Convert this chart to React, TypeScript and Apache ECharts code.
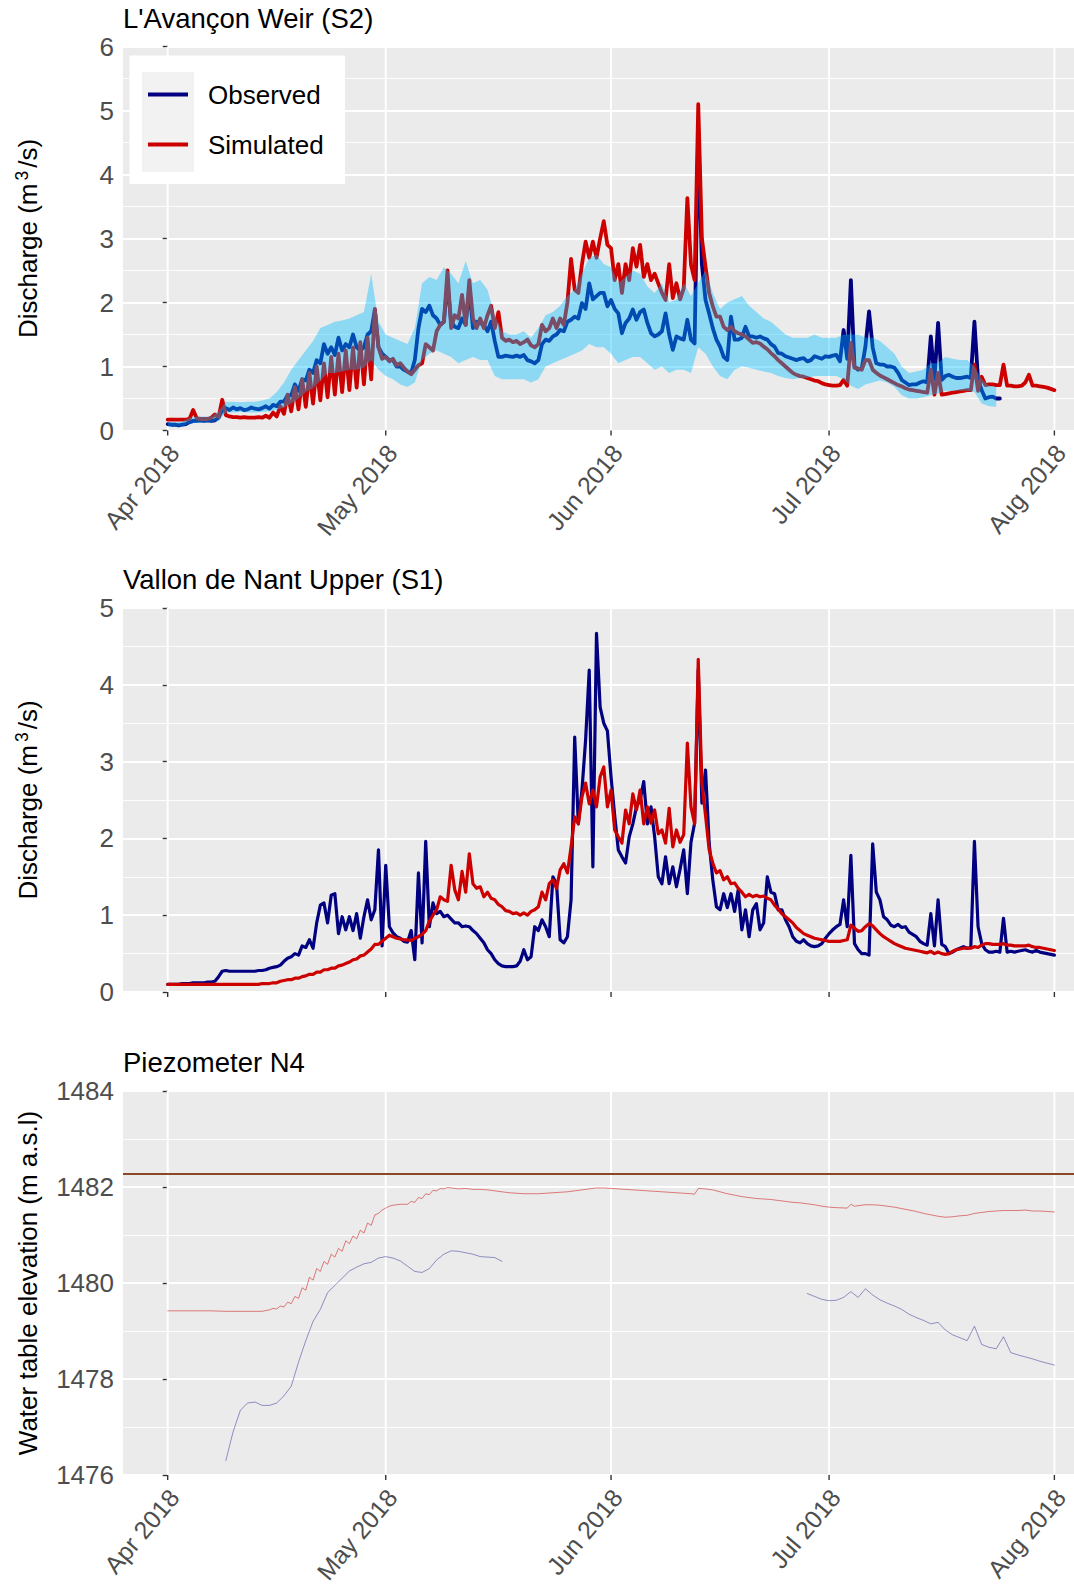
import React, { useEffect, useRef } from "react";
import * as echarts from "echarts";

// ---------- Data (x = days since 1 Apr 2018) ----------

// Month boundaries and their labels
const monthDays = [0, 30, 61, 91, 122];
const monthLabels = ["Apr 2018", "May 2018", "Jun 2018", "Jul 2018", "Aug 2018"];

// L'Avançon Weir (S2) discharge, half-day sampling from 1 Apr
const weirStep = 0.5;
const weirObserved = [
  0.1, 0.09, 0.09, 0.08, 0.09, 0.1, 0.13, 0.15, 0.15, 0.16, 0.15, 0.16, 0.15, 0.16, 0.2, 0.33,
  0.35, 0.32, 0.36, 0.33, 0.35, 0.32, 0.33, 0.36, 0.34, 0.33, 0.35, 0.38, 0.34, 0.4, 0.38, 0.45,
  0.45, 0.55, 0.55, 0.72, 0.62, 0.8, 0.78, 0.95, 0.9, 1.1, 1.05, 1.35, 1.2, 1.3, 1.18, 1.45,
  1.25, 1.35, 1.3, 1.5, 1.3, 1.25, 1.3, 1.5, 1.55, 1.88, 1.3, 1.2, 1.15, 1.1, 1.1, 1.0,
  1.0, 0.95, 0.92, 0.9, 1.1, 1.6, 1.9, 1.85, 1.95, 1.8, 1.75, 1.65, 1.7, 2.3, 1.7, 1.62,
  1.6, 1.75, 1.65, 2.2, 1.6, 1.7, 1.68, 1.65, 1.55, 1.7, 1.4, 1.15, 1.15, 1.17, 1.16, 1.15,
  1.17, 1.15, 1.18, 1.1, 1.08, 1.05, 1.1, 1.35, 1.42, 1.4, 1.47, 1.5, 1.57, 1.55, 1.7, 1.73,
  1.78, 1.75, 1.99, 1.9, 2.3, 2.05, 2.1, 2.15, 2.15, 1.94, 2.04, 1.9, 1.83, 1.52, 1.68, 1.75,
  1.89, 1.73, 1.85, 1.89, 1.68, 1.52, 1.47, 1.5, 1.55, 1.83, 1.5, 1.26, 1.47, 1.44, 1.42, 1.73,
  1.42, 1.36, 4.7, 2.6, 2.04, 1.83, 1.6, 1.42, 1.31, 1.15, 1.1, 1.78, 1.42, 1.42, 1.45, 1.62,
  1.47, 1.47, 1.45, 1.47, 1.44, 1.42, 1.35, 1.31, 1.21, 1.2, 1.16, 1.14, 1.12, 1.1, 1.12, 1.13,
  1.08, 1.1, 1.16, 1.14, 1.12, 1.16, 1.15, 1.17, 1.18, 1.08, 1.57, 1.12, 2.35, 1.0, 0.95, 0.97,
  1.31, 1.86, 1.3, 1.05, 1.03, 1.03, 1.0, 1.0, 0.98, 0.9, 0.79, 0.75, 0.71, 0.72, 0.72, 0.75,
  0.77, 0.75, 1.47, 0.8, 1.68, 0.79, 0.85, 0.87, 0.84, 0.82, 0.82, 0.83, 0.84, 0.82, 1.7, 0.79,
  0.63, 0.5, 0.52, 0.53, 0.5, 0.5,
];
const weirSimulated = [
  0.17, 0.17, 0.17, 0.17, 0.17, 0.17, 0.18, 0.32, 0.19, 0.18, 0.18, 0.18, 0.2, 0.25, 0.21, 0.48,
  0.24, 0.22, 0.21, 0.21, 0.2, 0.21, 0.2, 0.2, 0.2, 0.21, 0.2, 0.23, 0.2, 0.28, 0.22, 0.38,
  0.26, 0.56, 0.3, 0.68, 0.33, 0.8, 0.37, 0.9, 0.42, 1.0, 0.47, 1.05, 0.52, 1.15, 0.56, 1.2,
  0.6, 1.25, 0.63, 1.3, 0.67, 1.38, 0.72, 1.45, 0.8, 1.9, 1.3, 1.12, 1.15, 1.08, 1.12, 1.02,
  1.05, 0.98, 0.92, 0.88, 0.95, 1.02, 1.05, 1.35, 1.3, 1.25, 1.55, 1.65, 1.7, 2.5, 1.6, 1.8,
  1.75, 2.12, 1.65, 2.35, 1.75, 1.6, 1.75, 1.6, 1.8, 1.95, 1.6, 1.85, 1.45, 1.4, 1.42, 1.38,
  1.4, 1.35, 1.38, 1.42, 1.33, 1.3, 1.35, 1.65, 1.55, 1.6, 1.75, 1.6, 1.75, 1.65, 2.0, 2.68,
  2.2, 2.15, 2.6, 2.95, 2.7, 2.95, 2.7, 3.0, 3.27, 2.9, 2.85, 2.35, 2.6, 2.15, 2.6, 2.35,
  2.85, 2.56, 2.9, 2.4, 2.6, 2.35, 2.45, 2.3, 2.15, 2.04, 2.6, 2.07, 2.3, 2.05, 2.22, 3.63,
  2.59, 2.35, 5.1, 3.0, 2.56, 2.15, 1.94, 1.78, 1.78, 1.62, 1.57, 1.62, 1.55, 1.52, 1.5, 1.47,
  1.42, 1.37, 1.38, 1.36, 1.31, 1.27, 1.21, 1.16, 1.1, 1.05, 1.0, 0.95, 0.9, 0.87, 0.85, 0.84,
  0.82, 0.8, 0.78, 0.77, 0.74, 0.72, 0.71, 0.7, 0.7, 0.71, 0.79, 0.7, 1.37, 0.98, 0.97, 0.95,
  1.1, 1.1, 0.95, 0.9, 0.86, 0.83, 0.8, 0.77, 0.74, 0.71, 0.69, 0.66, 0.64, 0.63, 0.62, 0.61,
  0.6, 0.59, 0.95, 0.56, 0.9, 0.56, 0.57, 0.58, 0.59, 0.6, 0.61, 0.62, 0.63, 0.63, 1.03, 0.62,
  0.84, 0.71, 0.72, 0.72, 0.71, 0.71, 1.03, 0.7, 0.7, 0.69, 0.69, 0.7, 0.75, 0.87, 0.7, 0.7,
  0.69, 0.68, 0.67, 0.65, 0.63,
];
// Uncertainty band of the observed weir discharge, daily from 1 Apr
const weirBandLower = [
  0.06, 0.06, 0.06, 0.1, 0.12, 0.12, 0.13, 0.15, 0.28, 0.28, 0.29, 0.28, 0.28, 0.29, 0.3, 0.32,
  0.36, 0.42, 0.5, 0.6, 0.66, 0.78, 0.9, 0.9, 0.92, 0.95, 0.95, 0.98, 1.1, 0.95, 0.85, 0.8,
  0.72, 0.68, 0.75, 1.1, 1.2, 1.25, 1.2, 1.15, 1.05, 1.1, 1.15, 1.1, 1.1, 0.85, 0.8, 0.8,
  0.8, 0.8, 0.75, 0.8, 1.0, 1.05, 1.1, 1.15, 1.2, 1.25, 1.35, 1.3, 1.3, 1.2, 1.05, 1.1,
  1.15, 1.15, 1.05, 0.95, 1.0, 0.9, 0.95, 0.95, 0.9, 1.3, 1.2, 1.0, 0.85, 0.8, 0.95, 1.0,
  0.98, 0.95, 0.92, 0.9, 0.85, 0.82, 0.8, 0.82, 0.82, 0.85, 0.85, 0.85, 0.85, 0.8, 0.7, 0.65,
  0.72, 0.75, 0.78, 0.75, 0.68, 0.55, 0.5, 0.5, 0.52, 0.55, 0.58, 0.62, 0.62, 0.62, 0.62, 0.6,
  0.42, 0.38, 0.37,
];
const weirBandUpper = [
  0.13, 0.13, 0.14, 0.2, 0.22, 0.22, 0.22, 0.3, 0.45, 0.45, 0.44, 0.45, 0.45, 0.47, 0.5, 0.6,
  0.75, 0.95, 1.1, 1.25, 1.4, 1.6, 1.65, 1.7, 1.72, 1.75, 1.8, 1.85, 2.45, 1.7, 1.5, 1.45,
  1.4, 1.35, 1.6, 2.3, 2.4, 2.35, 2.55, 2.45, 2.3, 2.65, 2.3, 2.35, 2.2, 1.8, 1.55, 1.5,
  1.5, 1.55, 1.45, 1.6, 1.8, 1.85, 1.95, 2.1, 2.2, 2.45, 2.7, 2.75, 2.6, 2.55, 2.3, 2.4,
  2.5, 2.45, 2.25, 2.15, 2.3, 2.0, 2.05, 2.3, 2.1, 2.3, 2.5, 2.15, 1.9, 2.0, 2.05, 2.1,
  1.95, 1.85, 1.75, 1.7, 1.6, 1.5, 1.45, 1.45, 1.45, 1.5, 1.45, 1.45, 1.45, 1.5, 1.5, 1.5,
  1.45, 1.45, 1.4, 1.3, 1.2, 1.0, 0.9, 0.92, 0.95, 1.05, 1.05, 1.15, 1.12, 1.1, 1.1, 1.0,
  0.8, 0.7, 0.68,
];

// Vallon de Nant Upper (S1) discharge, half-day sampling from 1 Apr
const upperStep = 0.5;
const upperObserved = [
  0.1, 0.1, 0.1, 0.1, 0.11, 0.11, 0.11, 0.12, 0.12, 0.12, 0.12, 0.13, 0.13, 0.14, 0.2, 0.27,
  0.28, 0.27, 0.27, 0.27, 0.27, 0.27, 0.27, 0.27, 0.27, 0.28, 0.28, 0.29, 0.31, 0.32, 0.33, 0.35,
  0.4, 0.44, 0.46, 0.5, 0.48, 0.6, 0.58, 0.68, 0.57, 0.9, 1.13, 1.16, 0.9, 1.26, 1.28, 0.76,
  0.98, 0.81, 0.98, 0.8, 1.02, 0.7, 0.98, 1.2, 0.94, 1.07, 1.85, 0.6, 1.65, 0.85, 0.77, 0.72,
  0.7, 0.66, 0.65, 0.8, 0.42, 1.55, 0.64, 1.96, 0.85, 1.16, 1.02, 1.05, 0.98, 1.0, 0.95, 0.9,
  0.9, 0.85, 0.86, 0.85, 0.8, 0.76, 0.7, 0.64, 0.55, 0.5, 0.42, 0.37, 0.34, 0.33, 0.33, 0.33,
  0.34, 0.4, 0.55, 0.42, 0.46, 0.85, 0.8, 0.94, 0.85, 0.72, 1.5, 1.41, 0.68, 0.64, 0.72, 1.2,
  3.32, 2.19, 2.63, 3.28, 4.19, 1.63, 4.67, 3.71, 3.5, 3.4, 2.8, 2.3, 1.85, 1.76, 1.68, 2.02,
  2.19, 2.41, 2.5, 2.74, 2.19, 2.41, 2.02, 1.5, 1.41, 1.76, 1.41, 1.63, 1.37, 1.6, 1.85, 1.28,
  1.95, 2.2, 4.2, 2.46, 2.89, 1.94, 1.46, 1.11, 1.07, 1.28, 1.1, 1.28, 1.05, 1.33, 0.81, 1.07,
  0.72, 1.07, 1.15, 0.81, 0.9, 1.5, 1.3, 1.28, 1.07, 1.07, 0.94, 0.85, 0.72, 0.66, 0.64, 0.68,
  0.63, 0.6, 0.59, 0.6, 0.63, 0.7, 0.76, 0.81, 0.85, 0.88, 1.2, 0.85, 1.78, 0.63, 0.55, 0.5,
  0.5, 0.48, 1.93, 1.3, 1.2, 0.98, 0.94, 0.87, 0.85, 0.88, 0.84, 0.85, 0.78, 0.75, 0.72, 0.66,
  0.63, 0.61, 1.02, 0.6, 1.2, 0.62, 0.59, 0.5, 0.52, 0.55, 0.57, 0.59, 0.57, 0.58, 1.96, 0.85,
  0.63, 0.55, 0.52, 0.52, 0.53, 0.52, 0.96, 0.52, 0.53, 0.52, 0.53, 0.54, 0.55, 0.53, 0.52, 0.54,
  0.52, 0.51, 0.5, 0.49, 0.48,
];
const upperSimulated = [
  0.1, 0.1, 0.1, 0.1, 0.1, 0.1, 0.1, 0.1, 0.1, 0.1, 0.1, 0.1, 0.1, 0.1, 0.1, 0.1,
  0.1, 0.1, 0.1, 0.1, 0.1, 0.1, 0.1, 0.1, 0.1, 0.1, 0.11, 0.11, 0.11, 0.12, 0.12, 0.14,
  0.15, 0.16, 0.16, 0.18, 0.18, 0.2, 0.21, 0.23, 0.23, 0.26, 0.26, 0.29, 0.29, 0.31, 0.31, 0.34,
  0.35, 0.37, 0.39, 0.42, 0.43, 0.47, 0.48, 0.52, 0.56, 0.62, 0.62, 0.66, 0.7, 0.74, 0.72, 0.7,
  0.69, 0.68, 0.68, 0.67, 0.7, 0.72, 0.75, 0.8, 0.92, 1.0, 1.07, 1.24, 1.2, 1.18, 1.65, 1.33,
  1.2, 1.57, 1.3, 1.8, 1.41, 1.35, 1.37, 1.24, 1.3, 1.22, 1.2, 1.14, 1.11, 1.06, 1.05, 1.02,
  1.03, 1.0, 1.03, 1.0, 1.05, 1.07, 1.11, 1.3, 1.2, 1.41, 1.46, 1.35, 1.59, 1.67, 1.55, 1.89,
  2.28, 2.19, 2.54, 2.72, 2.45, 2.63, 2.41, 2.8, 2.93, 2.41, 2.63, 2.11, 2.02, 1.94, 2.37, 2.19,
  2.58, 2.37, 2.63, 2.19, 2.41, 2.2, 2.37, 2.06, 2.11, 1.94, 2.39, 1.89, 2.11, 1.95, 2.05, 3.24,
  2.41, 2.19, 4.33, 2.72, 2.3, 1.85, 1.68, 1.55, 1.58, 1.46, 1.5, 1.41, 1.42, 1.35, 1.3, 1.24,
  1.27, 1.24, 1.26, 1.24, 1.25, 1.22, 1.2, 1.13, 1.08, 1.02, 0.98, 0.94, 0.9, 0.84, 0.8, 0.76,
  0.74, 0.72, 0.7, 0.69, 0.68, 0.67, 0.66, 0.66, 0.66, 0.66, 0.67, 0.68, 0.87, 0.83, 0.79, 0.8,
  0.85, 0.89, 0.86, 0.81, 0.76, 0.72, 0.69, 0.66, 0.63, 0.61, 0.59, 0.57, 0.56, 0.55, 0.54, 0.53,
  0.52, 0.51, 0.53, 0.5, 0.52, 0.5, 0.49, 0.5, 0.53, 0.55, 0.56, 0.57, 0.57, 0.57, 0.59, 0.58,
  0.61, 0.63, 0.63, 0.62, 0.62, 0.62, 0.63, 0.61, 0.61, 0.6, 0.6, 0.6, 0.6, 0.61, 0.59, 0.58,
  0.58, 0.57, 0.56, 0.55, 0.54,
];

// Piezometer N4 simulated water table (m a.s.l.) as [day, level]; finer during the spring rise
const piezoSimulated: number[][] = [
  [0, 1479.42], [2, 1479.42], [4, 1479.42], [6, 1479.42], [8, 1479.41], [10, 1479.41], [12, 1479.41],
  [13, 1479.41], [14, 1479.44], [14.5, 1479.47], [15, 1479.46], [15.5, 1479.52], [16, 1479.5],
  [16.5, 1479.6], [17, 1479.57], [17.5, 1479.72], [18, 1479.68], [18.5, 1479.9], [19, 1479.85],
  [19.5, 1480.12], [20, 1480.06], [20.5, 1480.3], [21, 1480.24], [21.5, 1480.45], [22, 1480.39],
  [22.5, 1480.6], [23, 1480.54], [23.5, 1480.72], [24, 1480.66], [24.5, 1480.88], [25, 1480.82],
  [25.5, 1480.98], [26, 1480.92], [26.5, 1481.1], [27, 1481.04], [27.5, 1481.25], [28, 1481.2],
  [28.5, 1481.42], [29, 1481.45], [29.5, 1481.52], [30, 1481.56], [30.5, 1481.6], [31, 1481.62],
  [32, 1481.64], [33, 1481.64], [33.5, 1481.7], [34, 1481.68], [34.5, 1481.78], [35, 1481.76],
  [35.5, 1481.86], [36, 1481.84], [36.5, 1481.93], [37, 1481.92], [37.5, 1481.97], [38, 1481.96],
  [38.5, 1481.99], [39, 1481.98], [40, 1481.96], [41, 1481.97], [42, 1481.95], [43, 1481.95],
  [44, 1481.94], [45, 1481.92], [46, 1481.9], [47, 1481.88], [48, 1481.87], [49, 1481.86],
  [51, 1481.86], [52, 1481.87], [53, 1481.88], [54, 1481.89], [55, 1481.9], [56, 1481.92],
  [57, 1481.94], [58, 1481.96], [59, 1481.98], [60, 1481.98], [61, 1481.97], [62, 1481.96],
  [63, 1481.95], [64, 1481.94], [65, 1481.93], [66, 1481.92], [67, 1481.91], [68, 1481.9],
  [69, 1481.89], [70, 1481.88], [71, 1481.87], [72, 1481.86], [72.5, 1481.85], [73, 1481.97],
  [74, 1481.96], [75, 1481.94], [76, 1481.9], [77, 1481.86], [78, 1481.83], [79, 1481.8],
  [80, 1481.78], [81, 1481.76], [82, 1481.75], [83, 1481.74], [84, 1481.72], [85, 1481.7],
  [86, 1481.68], [87, 1481.67], [88, 1481.65], [89, 1481.63], [90, 1481.6], [91, 1481.58],
  [92, 1481.57], [93.5, 1481.56], [94, 1481.64], [94.5, 1481.6], [96, 1481.63], [97, 1481.63],
  [98, 1481.62], [99, 1481.6], [100, 1481.58], [101, 1481.55], [102, 1481.52], [103, 1481.49],
  [104, 1481.45], [105, 1481.42], [106, 1481.39], [107, 1481.37], [108, 1481.38], [109, 1481.4],
  [110, 1481.41], [111, 1481.45], [112, 1481.47], [113, 1481.49], [114, 1481.5], [115, 1481.51],
  [116, 1481.51], [117, 1481.51], [118, 1481.52], [119, 1481.5], [120, 1481.5], [121, 1481.49],
  [122, 1481.48],
];
const piezoObservedAprStart = 8;
const piezoObservedApr = [
  1476.3, 1476.9, 1477.35, 1477.5, 1477.52, 1477.45, 1477.45, 1477.5, 1477.65, 1477.85,
  1478.35, 1478.8, 1479.2, 1479.45, 1479.8, 1479.95, 1480.1, 1480.25, 1480.33, 1480.4,
  1480.43, 1480.52, 1480.55, 1480.52, 1480.46, 1480.35, 1480.24, 1480.22, 1480.3, 1480.48,
  1480.6, 1480.67, 1480.66, 1480.63, 1480.6, 1480.55, 1480.54, 1480.53, 1480.45,
];
const piezoObservedJulStart = 88;
const piezoObservedJul = [
  1479.78, 1479.72, 1479.66, 1479.63, 1479.64, 1479.7, 1479.82, 1479.7, 1479.88, 1479.75,
  1479.65, 1479.58, 1479.52, 1479.45, 1479.35, 1479.28, 1479.22, 1479.15, 1479.18, 1479.02,
  1478.92, 1478.86, 1478.8, 1479.1, 1478.72, 1478.66, 1478.63, 1478.88, 1478.55, 1478.5,
  1478.46, 1478.42, 1478.37, 1478.33, 1478.29,
];
// Ground surface elevation at the piezometer
const groundSurface = 1482.27;

// ---------- Styling ----------
const FONT = "'Liberation Sans', Arial, Helvetica, sans-serif";
const NAVY = "#000080";
const RED = "#CD0000";
const BAND = "rgba(0,191,255,0.4)";
const PANEL_BG = "#EBEBEB";
const TICK_COLOR = "#333333";
const LABEL_COLOR = "#4D4D4D";
const X_MIN = -6.15;
const X_MAX = 124.7;
const PLOT_LEFT = 123;
const PLOT_WIDTH = 951;
const PLOT_HEIGHT = 384;
const MONTH_ANGLE = (50 * Math.PI) / 180;

const DISCHARGE_TITLE = "Discharge (m{sup|3}/s)";
const panels = [
  { top: 46.5, yMin: 0, yMax: 6, interval: 1, monthText: true, title: "L'Avançon Weir (S2)", yTitle: DISCHARGE_TITLE },
  { top: 608, yMin: 0, yMax: 5, interval: 1, monthText: false, title: "Vallon de Nant Upper (S1)", yTitle: DISCHARGE_TITLE },
  { top: 1091, yMin: 1476, yMax: 1484, interval: 2, monthText: true, title: "Piezometer N4", yTitle: "Water table elevation (m a.s.l)" },
];

const toPairs = (values: number[], start: number, step: number) =>
  values.map((v, i) => [start + i * step, v]);

function lineSeries(k: number, data: number[][], color: string, width: number, z: number): any {
  return {
    type: "line",
    xAxisIndex: k,
    yAxisIndex: k,
    z,
    silent: true,
    data,
    showSymbol: false,
    symbol: "none",
    lineStyle: { color, width, join: "round", cap: "round" },
    emphasis: { disabled: true },
  };
}

// Month grid lines, ticks and rotated labels, placed through the axis scales
function monthSeries(k: number): any {
  const p = panels[k];
  return {
    type: "custom",
    xAxisIndex: k,
    yAxisIndex: k,
    silent: true,
    clip: false,
    z: 1,
    data: monthDays.map((d, i) => [d, p.yMin, i]),
    renderItem: (_params: any, api: any) => {
      const d = api.value(0);
      const idx = api.value(2);
      const bottom = api.coord([d, p.yMin]);
      const top = api.coord([d, p.yMax]);
      const children: any[] = [
        {
          type: "line",
          shape: { x1: top[0], y1: top[1], x2: bottom[0], y2: bottom[1] },
          style: { stroke: "#FFFFFF", lineWidth: 1.9 },
        },
        {
          type: "line",
          shape: { x1: bottom[0], y1: bottom[1], x2: bottom[0], y2: bottom[1] + 5 },
          style: { stroke: TICK_COLOR, lineWidth: 1.4 },
        },
      ];
      if (p.monthText) {
        children.push({
          type: "text",
          x: bottom[0] - 3,
          y: bottom[1] + 10,
          rotation: MONTH_ANGLE,
          style: {
            text: monthLabels[idx],
            fill: LABEL_COLOR,
            fontSize: 24.8,
            fontFamily: FONT,
            align: "right",
            verticalAlign: "top",
          },
        });
      }
      return { type: "group", children };
    },
  };
}

function buildOption(): any {
  const grid = panels.map((p) => ({
    left: PLOT_LEFT,
    width: PLOT_WIDTH,
    top: p.top,
    height: PLOT_HEIGHT,
    show: true,
    backgroundColor: PANEL_BG,
    borderWidth: 0,
    containLabel: false,
    outerBoundsMode: "none",
  }));

  const xAxis = panels.map((_p, k) => ({
    type: "value",
    gridIndex: k,
    min: X_MIN,
    max: X_MAX,
    axisLine: { show: false },
    axisTick: { show: false },
    axisLabel: { show: false },
    splitLine: { show: false },
  }));

  const yAxis = panels.map((p, k) => ({
    type: "value",
    gridIndex: k,
    min: p.yMin,
    max: p.yMax,
    interval: p.interval,
    axisLine: { show: false },
    axisTick: { show: true, length: 5, lineStyle: { color: TICK_COLOR, width: 1.4 } },
    axisLabel: {
      color: LABEL_COLOR,
      fontSize: 26,
      fontFamily: FONT,
      margin: 9,
      formatter: (v: number) => String(v),
    },
    splitLine: { show: true, lineStyle: { color: "#FFFFFF", width: 1.9 } },
    minorTick: { show: false, splitNumber: 2 },
    minorSplitLine: { show: true, lineStyle: { color: "#FFFFFF", width: 0.9 } },
  }));

  const series: any[] = [
    monthSeries(0),
    monthSeries(1),
    monthSeries(2),
    lineSeries(0, toPairs(weirObserved, 0, weirStep), NAVY, 3.8, 2),
    lineSeries(0, toPairs(weirSimulated, 0, weirStep), RED, 3.8, 3),
    {
      type: "custom",
      xAxisIndex: 0,
      yAxisIndex: 0,
      silent: true,
      z: 4,
      data: [[0, 0]],
      renderItem: (_params: any, api: any) => {
        const pts: number[][] = [];
        weirBandUpper.forEach((v, i) => pts.push(api.coord([i, v])));
        for (let i = weirBandLower.length - 1; i >= 0; i--) pts.push(api.coord([i, weirBandLower[i]]));
        return { type: "polygon", shape: { points: pts }, style: { fill: BAND } };
      },
    },
    lineSeries(1, toPairs(upperObserved, 0, upperStep), NAVY, 3.2, 2),
    lineSeries(1, toPairs(upperSimulated, 0, upperStep), RED, 3.2, 3),
    lineSeries(2, toPairs(piezoObservedApr, piezoObservedAprStart, 1), "rgba(0,0,128,0.45)", 0.9, 2),
    lineSeries(2, toPairs(piezoObservedJul, piezoObservedJulStart, 1), "rgba(0,0,128,0.45)", 0.9, 2),
    {
      ...lineSeries(2, piezoSimulated, "rgba(205,0,0,0.55)", 0.9, 3),
      markLine: {
        silent: true,
        symbol: ["none", "none"],
        label: { show: false },
        lineStyle: { color: "#8B4726", width: 2.2, type: "solid" },
        data: [{ yAxis: groundSurface }],
      },
    },
  ];

  const graphic: any[] = [];
  panels.forEach((p) => {
    graphic.push({
      type: "text",
      x: PLOT_LEFT,
      y: p.top - 28.5,
      style: { text: p.title, fill: "#000000", fontSize: 27.5, fontFamily: FONT, verticalAlign: "middle" },
    });
    graphic.push({
      type: "text",
      x: 28,
      y: p.top + PLOT_HEIGHT / 2,
      rotation: Math.PI / 2,
      style: {
        text: p.yTitle,
        fill: "#000000",
        fontSize: 26,
        fontFamily: FONT,
        align: "center",
        verticalAlign: "middle",
        lineHeight: 30,
        rich: {
          sup: { fontSize: 17.5, fontFamily: FONT, fill: "#000000", verticalAlign: "top", lineHeight: 30, padding: [0, 3, 0, 3] },
        },
      },
    });
  });

  // Legend box for the weir panel
  graphic.push(
    { type: "rect", shape: { x: 129.5, y: 55.5, width: 215.5, height: 128.5 }, style: { fill: "#FFFFFF" }, z: 100 },
    { type: "rect", shape: { x: 142, y: 72, width: 52, height: 100 }, style: { fill: "#F2F2F2" }, z: 101 },
    { type: "line", shape: { x1: 148, y1: 94.5, x2: 188, y2: 94.5 }, style: { stroke: NAVY, lineWidth: 4 }, z: 102 },
    { type: "line", shape: { x1: 148, y1: 144.5, x2: 188, y2: 144.5 }, style: { stroke: RED, lineWidth: 4 }, z: 102 },
    { type: "text", x: 208, y: 94.5, style: { text: "Observed", fill: "#000000", fontSize: 26, fontFamily: FONT, verticalAlign: "middle" }, z: 102 },
    { type: "text", x: 208, y: 144.5, style: { text: "Simulated", fill: "#000000", fontSize: 26, fontFamily: FONT, verticalAlign: "middle" }, z: 102 }
  );

  return {
    animation: false,
    backgroundColor: "#FFFFFF",
    grid,
    xAxis,
    yAxis,
    series,
    graphic,
  };
}

export default function App() {
  const ref = useRef<HTMLDivElement>(null);
  useEffect(() => {
    if (!ref.current) return;
    const chart = echarts.init(ref.current, null, { renderer: "svg" });
    chart.setOption(buildOption());
    return () => chart.dispose();
  }, []);
  return (
    <div
      ref={ref}
      style={{ position: "absolute", left: 0, top: 0, width: 1074, height: 1585 }}
    />
  );
}
